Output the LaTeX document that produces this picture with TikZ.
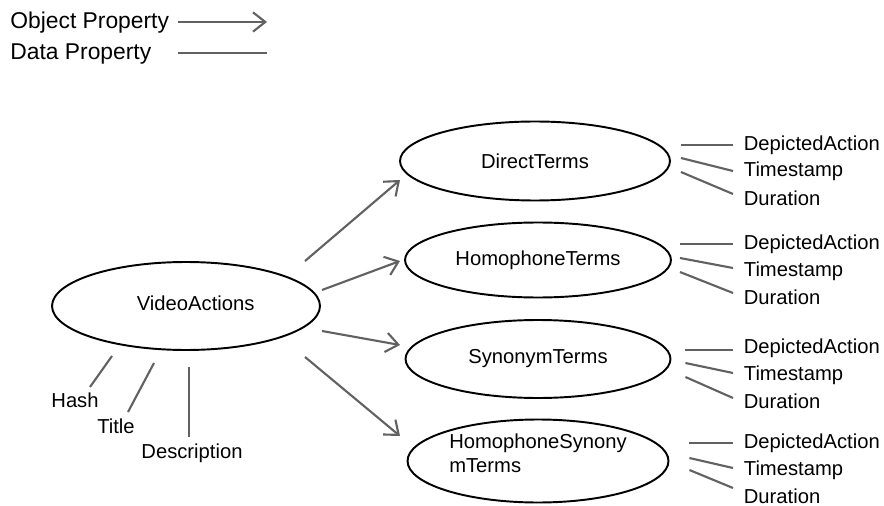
\documentclass[tikz,border=0pt]{standalone}
\usepackage{fontspec}
\setmainfont{Liberation Sans}
\usetikzlibrary{shapes.geometric,arrows.meta}

\tikzset{
  class/.style={draw, ellipse, line width=1.1pt, inner sep=0pt},
  objprop/.style={draw=black!62, line width=1.2pt, -{Straight Barb[length=7pt,width=11pt]}},
  dataprop/.style={draw=black!62, line width=1.2pt},
  attr/.style={anchor=west, inner xsep=6pt, inner ysep=0pt},
  legend/.style={anchor=west, inner sep=0pt, font=\fontsize{13}{15}\selectfont},
}

\begin{document}
\begin{tikzpicture}[x=0.02cm, y=-0.02cm, font=\fontsize{11.5}{14}\selectfont]
\useasboundingbox (0,0) rectangle (884,506);

% legend
\node[legend] (objleg) at (10,23) {Object Property};
\node[legend] (dataleg) at (10,54) {Data Property};
\coordinate (objleg-a) at (178,22);
\coordinate (objleg-b) at (267,22);
\coordinate (dataleg-a) at (178,53);
\coordinate (dataleg-b) at (267,53);
\draw[objprop] (objleg-a) -- (objleg-b);
\draw[dataprop] (dataleg-a) -- (dataleg-b);

% classes
\node[class, minimum width=5.36cm, minimum height=1.76cm, text depth=3pt] (va) at (186,306) {\hspace*{11pt}VideoActions};
\node[class, minimum width=5.4cm, minimum height=1.58cm] (dt) at (535,161) {DirectTerms};
\node[class, minimum width=5.32cm, minimum height=1.5cm] (ht) at (538,260) {HomophoneTerms};
\node[class, minimum width=5.3cm, minimum height=1.56cm] (st) at (538,359) {SynonymTerms};
\node[class, minimum width=5.22cm, minimum height=1.66cm, align=left, text depth=9pt] (hst) at (538,461) {HomophoneSynony\\mTerms};

% object properties
\draw[objprop] ([shift={(119,-45)}]va.center) -- ([shift={(-135,19)}]dt.center);
\draw[objprop] ([shift={(136,-16)}]va.center) -- ([shift={(-138,1)}]ht.center);
\draw[objprop] ([shift={(136,25)}]va.center) -- ([shift={(-138,-14)}]st.center);
\draw[objprop] ([shift={(119,51)}]va.center) -- ([shift={(-138,-25)}]hst.center);

% data properties of VideoActions
\node (hash) at (75,400) {Hash};
\node (title) at (116,426) {Title};
\node (desc) at (192,453) {Description};
\draw[dataprop] ([shift={(-74,50)}]va.center) -- ([shift={(15,-13)}]hash.center);
\draw[dataprop] ([shift={(-32,57)}]va.center) -- ([shift={(12,-14)}]title.center);
\draw[dataprop] ([shift={(3,61)}]va.center) -- ([shift={(-3,-16)}]desc.center);

% data properties of DirectTerms
\node[attr] (dt-a) at (733,145) {DepictedAction};
\node[attr] (dt-t) at (733,171) {Timestamp};
\node[attr] (dt-d) at (733,198) {Duration};
\draw[dataprop] ([shift={(10,-16)}]dt.east) -- (dt-a.west);
\draw[dataprop] ([shift={(10,-3)}]dt.east) -- (dt-t.west);
\draw[dataprop] ([shift={(10,11)}]dt.east) -- ([shift={(0,-4)}]dt-d.west);

% data properties of HomophoneTerms
\node[attr] (ht-a) at (733,244) {DepictedAction};
\node[attr] (ht-t) at (733,271) {Timestamp};
\node[attr] (ht-d) at (733,297) {Duration};
\draw[dataprop] ([shift={(8,-16)}]ht.east) -- (ht-a.west);
\draw[dataprop] ([shift={(8,-2)}]ht.east) -- ([shift={(0,-3)}]ht-t.west);
\draw[dataprop] ([shift={(8,12)}]ht.east) -- ([shift={(0,-4)}]ht-d.west);

% data properties of SynonymTerms
\node[attr] (st-a) at (733,348) {DepictedAction};
\node[attr] (st-t) at (733,375) {Timestamp};
\node[attr] (st-d) at (733,401) {Duration};
\draw[dataprop] ([shift={(14,-9)}]st.east) -- ([shift={(0,2)}]st-a.west);
\draw[dataprop] ([shift={(14,4)}]st.east) -- ([shift={(0,-2)}]st-t.west);
\draw[dataprop] ([shift={(14,18)}]st.east) -- ([shift={(0,-3)}]st-d.west);

% data properties of HomophoneSynonymTerms
\node[attr] (hst-a) at (733,443) {DepictedAction};
\node[attr] (hst-t) at (733,470) {Timestamp};
\node[attr] (hst-d) at (733,496) {Duration};
\draw[dataprop] ([shift={(20,-18)}]hst.east) -- (hst-a.west);
\draw[dataprop] ([shift={(20,-3)}]hst.east) -- ([shift={(0,-2)}]hst-t.west);
\draw[dataprop] ([shift={(20,9)}]hst.east) -- ([shift={(0,-8)}]hst-d.west);
\end{tikzpicture}
\end{document}
